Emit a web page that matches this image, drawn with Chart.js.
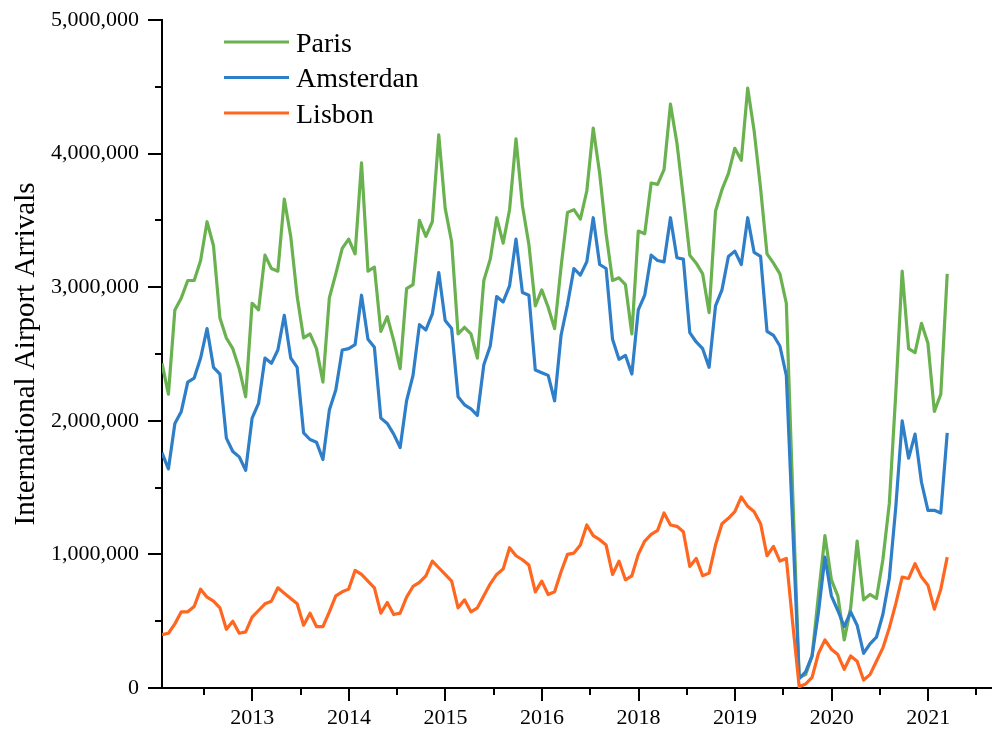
<!DOCTYPE html>
<html>
<head>
<meta charset="utf-8">
<script src="https://cdn.jsdelivr.net/npm/chart.js@4.4.1/dist/chart.umd.min.js"></script>
<style>
  html, body { margin: 0; padding: 0; background: #fff; }
  #wrap { width: 994px; height: 732px; }
</style>
</head>
<body>
<div id="wrap"><canvas id="chart"></canvas></div>
<script>
// monthly international airport arrivals, in millions (one value per month)
const paris = [
  2.43, 2.20, 2.83, 2.92, 3.05, 3.05, 3.20, 3.49, 3.31, 2.77,
  2.62, 2.54, 2.39, 2.18, 2.88, 2.83, 3.24, 3.14, 3.12, 3.66,
  3.38, 2.93, 2.62, 2.65, 2.54, 2.29, 2.92, 3.10, 3.29, 3.36,
  3.25, 3.93, 3.12, 3.15, 2.67, 2.78, 2.60, 2.39, 2.99, 3.02,
  3.50, 3.38, 3.49, 4.14, 3.59, 3.34, 2.65, 2.70, 2.65, 2.47,
  3.05, 3.21, 3.52, 3.33, 3.58, 4.11, 3.61, 3.32, 2.86, 2.98,
  2.85, 2.69, 3.15, 3.56, 3.58, 3.51, 3.72, 4.19, 3.85, 3.40,
  3.05, 3.07, 3.02, 2.65, 3.42, 3.40, 3.78, 3.77, 3.88, 4.37,
  4.08, 3.67, 3.24, 3.18, 3.10, 2.81, 3.57, 3.73, 3.85, 4.04,
  3.95, 4.49, 4.17, 3.74, 3.25, 3.18, 3.10, 2.88, 1.45, 0.08,
  0.10, 0.24, 0.70, 1.14, 0.81, 0.69, 0.36, 0.60, 1.10, 0.66,
  0.70, 0.67, 0.96, 1.38, 2.20, 3.12, 2.54, 2.51, 2.73, 2.58,
  2.07, 2.20, 3.10
];
const amsterdan = [
  1.76, 1.64, 1.98, 2.07, 2.29, 2.32, 2.47, 2.69, 2.40, 2.35,
  1.87, 1.77, 1.73, 1.63, 2.02, 2.13, 2.47, 2.43, 2.53, 2.79,
  2.47, 2.40, 1.91, 1.86, 1.84, 1.71, 2.08, 2.23, 2.53, 2.54,
  2.57, 2.94, 2.61, 2.55, 2.02, 1.98, 1.90, 1.80, 2.15, 2.34,
  2.72, 2.68, 2.80, 3.11, 2.75, 2.69, 2.18, 2.12, 2.09, 2.04,
  2.42, 2.56, 2.93, 2.89, 3.01, 3.36, 2.96, 2.94, 2.38, 2.36,
  2.34, 2.15, 2.64, 2.87, 3.14, 3.09, 3.19, 3.52, 3.17, 3.14,
  2.61, 2.46, 2.49, 2.35, 2.83, 2.94, 3.24, 3.20, 3.19, 3.52,
  3.22, 3.21, 2.66, 2.59, 2.54, 2.40, 2.86, 2.98, 3.23, 3.27,
  3.17, 3.52, 3.26, 3.23, 2.67, 2.64, 2.56, 2.34, 1.20, 0.07,
  0.12, 0.24, 0.57, 0.98, 0.69, 0.58, 0.46, 0.57, 0.47, 0.26,
  0.33, 0.38, 0.55, 0.82, 1.35, 2.00, 1.72, 1.90, 1.54, 1.33,
  1.33, 1.31, 1.91
];
const lisbon = [
  0.40, 0.41, 0.48, 0.57, 0.57, 0.61, 0.74, 0.68, 0.65, 0.60,
  0.44, 0.50, 0.41, 0.42, 0.53, 0.58, 0.63, 0.65, 0.75, 0.71,
  0.67, 0.63, 0.47, 0.56, 0.46, 0.46, 0.57, 0.69, 0.72, 0.74,
  0.88, 0.85, 0.80, 0.75, 0.56, 0.64, 0.55, 0.56, 0.68, 0.76,
  0.79, 0.84, 0.95, 0.90, 0.85, 0.80, 0.60, 0.66, 0.57, 0.60,
  0.69, 0.78, 0.85, 0.89, 1.05, 0.99, 0.96, 0.92, 0.72, 0.80,
  0.70, 0.72, 0.87, 1.00, 1.01, 1.07, 1.22, 1.14, 1.11, 1.07,
  0.85, 0.95, 0.81, 0.84, 1.00, 1.10, 1.15, 1.18, 1.31, 1.22,
  1.21, 1.17, 0.91, 0.97, 0.84, 0.86, 1.07, 1.23, 1.27, 1.32,
  1.43, 1.36, 1.32, 1.23, 0.99, 1.06, 0.95, 0.97, 0.48, 0.01,
  0.03, 0.08, 0.26, 0.36, 0.29, 0.25, 0.14, 0.24, 0.20, 0.06,
  0.10, 0.20, 0.30, 0.45, 0.63, 0.83, 0.82, 0.93, 0.83, 0.77,
  0.59, 0.74, 0.98
];
const seriesNames = ['Paris', 'Amsterdan', 'Lisbon'];
const yearLabels = ['2013', '2014', '2015', '2016', '2018', '2019', '2020', '2021'];
const yMax = 5000000;

const colors = ['#6ab150', '#2e7ec8', '#ff661f'];
const FONT = "'Liberation Serif', 'Times New Roman', serif";

// year ticks are 15 months apart on this axis, minor ticks halfway between
const yearPos = yearLabels.map((_, k) => 14.04 + 15 * k);
const minorPos = yearLabels.concat(['']).map((_, k) => 6.54 + 15 * k);

const toPoints = arr => arr.map((v, i) => ({ x: i, y: v * 1e6 }));

// outward tick marks + the legend in the upper left
const decor = {
  id: 'decor',
  afterDraw(chart) {
    const { ctx, chartArea: a, scales: { x, y } } = chart;
    ctx.save();
    ctx.strokeStyle = '#000';
    ctx.lineWidth = 2;
    ctx.beginPath();
    for (let v = 0; v <= yMax; v += yMax / 10) {
      const py = Math.round(y.getPixelForValue(v));
      const len = v % 1000000 === 0 ? 13 : 6;
      ctx.moveTo(a.left - 1 - len, py);
      ctx.lineTo(a.left, py);
    }
    yearPos.forEach(p => {
      const px = Math.round(x.getPixelForValue(p));
      ctx.moveTo(px, a.bottom);
      ctx.lineTo(px, a.bottom + 13);
    });
    minorPos.forEach(p => {
      const px = Math.round(x.getPixelForValue(p));
      ctx.moveTo(px, a.bottom);
      ctx.lineTo(px, a.bottom + 7);
    });
    ctx.stroke();

    ctx.font = '28px ' + FONT;
    ctx.fillStyle = '#000';
    ctx.textBaseline = 'alphabetic';
    chart.data.datasets.forEach((ds, i) => {
      const ly = a.top + 22 + i * 35.5;
      ctx.strokeStyle = ds.borderColor;
      ctx.lineWidth = 3;
      ctx.beginPath();
      ctx.moveTo(a.left + 62, ly);
      ctx.lineTo(a.left + 127, ly);
      ctx.stroke();
      ctx.fillText(ds.label, a.left + 134, ly + 9.5);
    });
    ctx.restore();
  }
};

Chart.defaults.font.family = FONT;
Chart.defaults.color = '#000';

new Chart(document.getElementById('chart'), {
  type: 'line',
  data: {
    datasets: [paris, amsterdan, lisbon].map((arr, i) => ({
      label: seriesNames[i],
      data: toPoints(arr),
      borderColor: colors[i],
      backgroundColor: colors[i],
      borderWidth: 3.2,
      borderJoinStyle: 'round',
      pointRadius: 0,
      tension: 0,
      order: 3 - i
    }))
  },
  options: {
    responsive: true,
    maintainAspectRatio: false,
    animation: false,
    events: [],
    layout: { padding: { top: 20, right: 3, left: 0, bottom: 0 } },
    plugins: {
      legend: { display: false },
      tooltip: { enabled: false }
    },
    scales: {
      x: {
        type: 'linear',
        min: 0,
        max: 128.8,
        grid: { display: true, drawOnChartArea: false, drawTicks: false },
        border: { display: true, color: '#000', width: 2 },
        afterBuildTicks: s => { s.ticks = yearPos.map(v => ({ value: v })); },
        afterFit: s => { s.height = 44; s.paddingLeft = 0; s.paddingRight = 0; },
        ticks: {
          autoSkip: false,
          maxRotation: 0,
          padding: 17,
          font: { size: 22 },
          callback: (v, i) => yearLabels[i]
        }
      },
      y: {
        min: 0,
        max: yMax,
        grid: { display: true, drawOnChartArea: false, drawTicks: false },
        border: { display: true, color: '#000', width: 2 },
        afterFit: s => { s.width = 162; s.paddingTop = 0; s.paddingBottom = 0; },
        ticks: {
          stepSize: 1000000,
          padding: 23,
          font: { size: 22 },
          callback: v => v.toLocaleString('en-US')
        },
        title: {
          display: true,
          text: 'International Airport Arrivals',
          font: { size: 29 },
          padding: { top: 9, bottom: 0 }
        }
      }
    }
  },
  plugins: [decor]
});
</script>
</body>
</html>
